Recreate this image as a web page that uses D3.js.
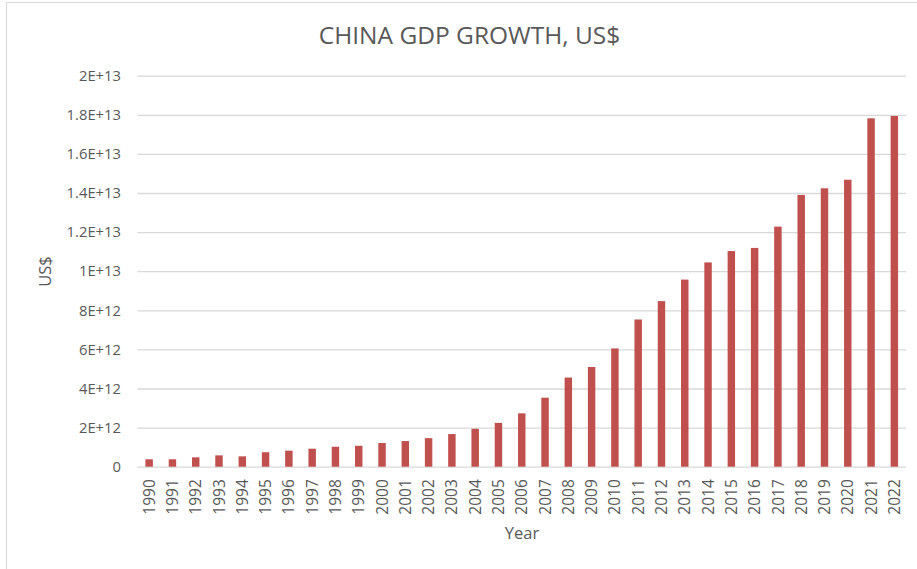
<!DOCTYPE html>
<html>
<head>
<meta charset="utf-8">
<script src="https://cdn.jsdelivr.net/npm/d3@7/dist/d3.min.js"></script>
<style>
  html, body { margin: 0; padding: 0; background: #fff; }
  svg { display: block; }
</style>
</head>
<body>
<svg id="chart" width="917" height="569"></svg>
<script>
const years = ["1990","1991","1992","1993","1994","1995","1996","1997","1998","1999","2000","2001","2002","2003","2004","2005","2006","2007","2008","2009","2010","2011","2012","2013","2014","2015","2016","2017","2018","2019","2020","2021","2022"];
const gdp = [0.38e12,0.38e12,0.48e12,0.58e12,0.53e12,0.74e12,0.82e12,0.92e12,1.02e12,1.07e12,1.21e12,1.31e12,1.46e12,1.67e12,1.94e12,2.24e12,2.73e12,3.53e12,4.56e12,5.10e12,6.05e12,7.53e12,8.47e12,9.57e12,10.45e12,11.03e12,11.19e12,12.28e12,13.90e12,14.24e12,14.68e12,17.82e12,17.94e12];
const yTicks = [0,2e12,4e12,6e12,8e12,1e13,1.2e13,1.4e13,1.6e13,1.8e13,2e13];
const yTickLabels = ["0","2E+12","4E+12","6E+12","8E+12","1E+13","1.2E+13","1.4E+13","1.6E+13","1.8E+13","2E+13"];
const title = "CHINA GDP GROWTH, US$";
const xTitle = "Year";
const yTitle = "US$";

const svg = d3.select("#chart");
const font = "'Open Sans', 'Noto Sans', sans-serif";
const textColor = "#595959";

// chart border
svg.append("rect")
  .attr("x", 6.5).attr("y", 2.5)
  .attr("width", 930).attr("height", 600)
  .attr("fill", "#fff")
  .attr("stroke", "#d9d9d9").attr("stroke-width", 1);

const plotLeft = 137.5, plotRight = 906, plotTop = 75.7, plotBottom = 466.7;

const x = d3.scaleBand().domain(years).range([plotLeft, plotRight]).paddingInner(0.68).paddingOuter(0.34);
const y = d3.scaleLinear().domain([0, 2e13]).range([plotBottom, plotTop]);

// gridlines
const yAxis = d3.axisLeft(y).tickValues(yTicks)
  .tickFormat((d, i) => yTickLabels[i])
  .tickSize(-(plotRight - plotLeft)).tickPadding(16.5);
const gy = svg.append("g").attr("transform", `translate(${plotLeft},0)`).call(yAxis);
gy.select(".domain").remove();
gy.selectAll(".tick line").attr("stroke", "#d9d9d9").attr("stroke-width", 1.3);
gy.selectAll(".tick text")
  .attr("fill", textColor)
  .style("font-family", font).style("font-size", "14.8px");

// bars
svg.append("g").selectAll("rect")
  .data(years.map((yr, i) => ({ yr, v: gdp[i] })))
  .join("rect")
  .attr("x", d => x(d.yr))
  .attr("width", x.bandwidth())
  .attr("y", d => y(d.v))
  .attr("height", d => y(0) - y(d.v))
  .attr("fill", "#c0504d");

// x axis
const xAxis = d3.axisBottom(x).tickSize(0).tickPadding(0);
const gx = svg.append("g").attr("transform", `translate(0,${plotBottom})`).call(xAxis);
gx.select(".domain").remove();
gx.selectAll(".tick text")
  .attr("fill", textColor)
  .style("font-family", font).style("font-size", "15.5px")
  .attr("text-anchor", "end")
  .attr("transform", "rotate(-90)")
  .attr("x", -12.5)
  .attr("y", 0)
  .attr("dy", "0.36em");

// title
svg.append("text")
  .attr("x", 469.5).attr("y", 43.5)
  .attr("text-anchor", "middle")
  .attr("fill", textColor)
  .style("font-family", font).style("font-size", "24.5px")
  .text(title);

// axis titles
svg.append("text")
  .attr("x", 522).attr("y", 539)
  .attr("text-anchor", "middle")
  .attr("fill", textColor)
  .style("font-family", font).style("font-size", "16.5px")
  .text(xTitle);

svg.append("text")
  .attr("transform", "translate(51,271.5) rotate(-90)")
  .attr("text-anchor", "middle")
  .attr("fill", textColor)
  .style("font-family", font).style("font-size", "16.5px")
  .text(yTitle);
</script>
</body>
</html>
